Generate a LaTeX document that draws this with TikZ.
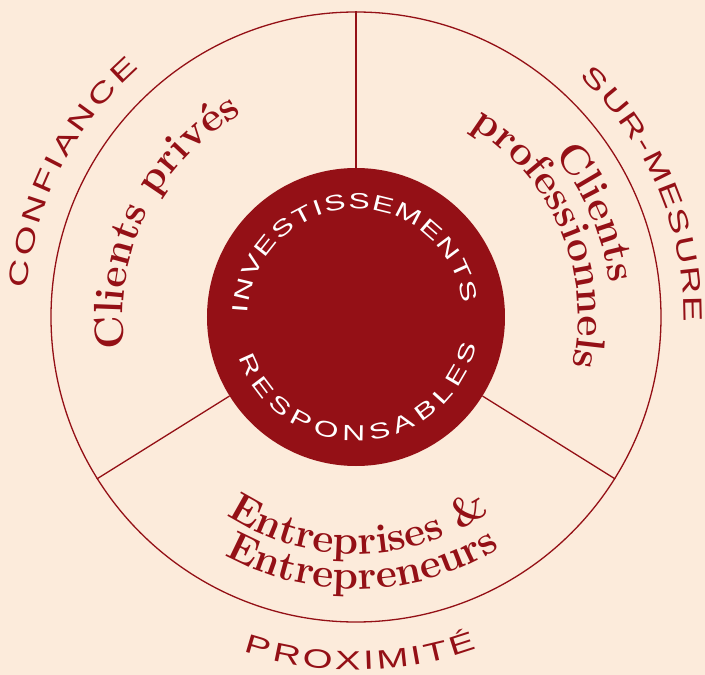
\documentclass[tikz,border=0pt]{standalone}
\usepackage{fontspec}
\usepackage{graphicx}
\usepackage{tikz}
\usetikzlibrary{decorations.text}
\definecolor{wine}{RGB}{148,16,22}
\definecolor{peach}{RGB}{252,235,219}
\newfontfamily\widefont{Liberation Sans}

% letters of a word set one by one round an arc
% #1 start angle, #2 radius, #3 direction (-1 clockwise, 1 anticlockwise),
% #4 width of 1em, #5 tracking, #6 style, #7 name, #8 letter/width list
\newcommand\ringword[8]{%
  \def\ringcum{0}%
  \foreach \ch/\w [count=\i] in {#8}{
    \pgfmathsetmacro\ringang{#1 + #3*(\ringcum + \w*#4/2)/#2*180/pi}
    \node[#6, rotate=\ringang+#3*90] (#7-\i) at (\ringang:#2) {\scalebox{1.45}[1]{\ch}};
    \pgfmathsetmacro\ringnext{\ringcum + \w*#4 + #5}
    \global\let\ringcum\ringnext
  }%
}

\begin{document}
\begin{tikzpicture}[x=1pt, y=1pt,
        ring/.style={circle, draw=wine, line width=1.3pt, minimum size=610pt, inner sep=0pt},
        core/.style={circle, fill=wine, minimum size=298pt, inner sep=0pt},
        divider/.style={draw=wine, line width=1.3pt},
        glyph/.style={inner sep=0pt, anchor=base, text=wine, font=\widefont\fontsize{26.5}{26.5}\selectfont},
        coreglyph/.style={inner sep=0pt, anchor=base, text=white, font=\widefont\fontsize{22}{22}\selectfont},
        segment/.style={decorate, decoration={text along path, text align=center, text={|\fontsize{41}{41}\selectfont\bfseries\color{wine}|#1}}}]

        % Background
        \fill[peach] (-356,-358) rectangle (349,317);
        \useasboundingbox (-356,-358) rectangle (349,317);

        % Rings
        \node[ring] (ring) at (0,0) {};
        \node[core] (core) at (0,0) {};

        % Dividers
        \draw[divider] (core.90) -- (ring.90);
        \draw[divider] (core.212.5) -- (ring.212.5);
        \draw[divider] (core.-32.5) -- (ring.-32.5);

        % Values round the ring
        \ringword{175}{330}{-1}{38.4}{3.3}{glyph}{conf}{C/.722,O/.778,N/.722,F/.611,I/.278,A/.667,N/.722,C/.722,E/.667}
        \ringword{47}{328}{-1}{38.4}{1.8}{glyph}{mes}{S/.667,U/.722,R/.722,-/.333,M/.833,E/.667,S/.667,U/.722,R/.722,E/.667}
        \ringword{251.5}{353}{1}{38.4}{3.2}{glyph}{prox}{P/.667,R/.722,O/.778,X/.667,I/.278,M/.833,I/.278,T/.611,É/.667}

        % Core text
        \ringword{178}{108}{-1}{31.9}{1.6}{coreglyph}{inv}{I/.278,N/.722,V/.667,E/.667,S/.667,T/.611,I/.278,S/.667,S/.667,E/.667,M/.833,E/.667,N/.722,T/.611,S/.667}
        \ringword{199}{124}{1}{31.9}{5.6}{coreglyph}{resp}{R/.722,E/.667,S/.667,P/.667,O/.778,N/.722,S/.667,A/.667,B/.667,L/.556,E/.667,S/.667}

        % Segments
        \path[segment={Clients priv{é}s}] (200:233) arc[start angle=200, end angle=107, radius=233];
        \path[segment=Clients] (60:256) arc[start angle=60, end angle=-13, radius=256];
        \path[segment=professionnels] (75:222) arc[start angle=75, end angle=-29, radius=222];
        \path[segment={Entreprises {\&}}] (220:237) arc[start angle=220, end angle=321.4, radius=237];
        \path[segment=Entrepreneurs] (225:272) arc[start angle=225, end angle=318, radius=272];

\end{tikzpicture}
\end{document}
